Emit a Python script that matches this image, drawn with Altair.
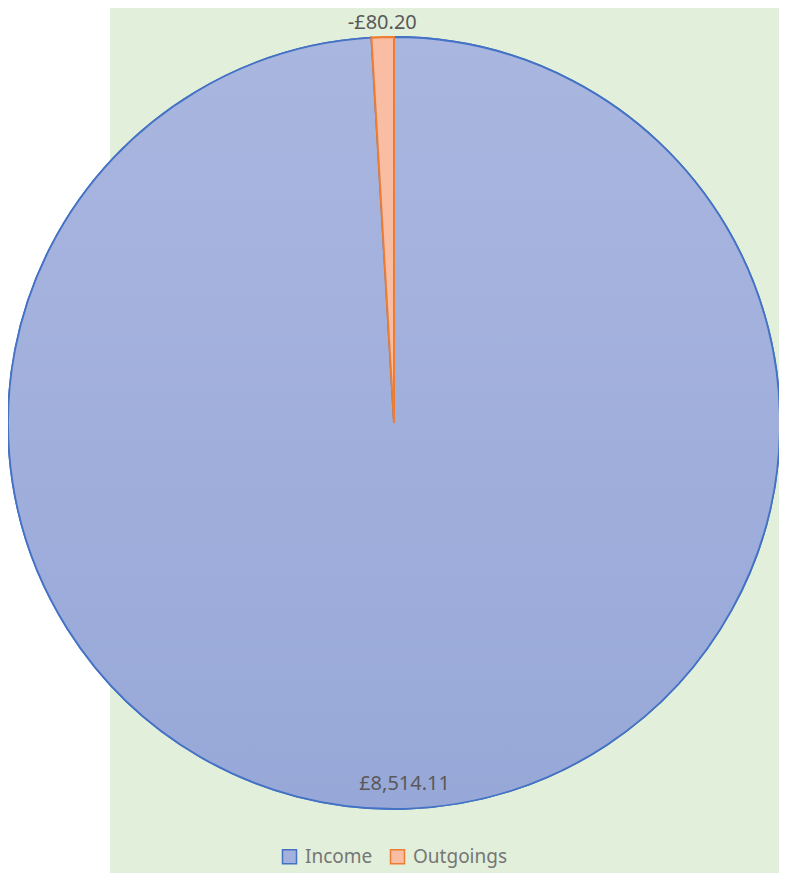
import altair as alt
import pandas as pd

categories = ["Income", "Outgoings"]
values = [8514.11, -80.20]
labels = ["£8,514.11", "-£80.20"]
fills = ["#A3B1DC", "#F8BDA2"]
strokes = ["#4472C4", "#ED7D31"]
label_radius = [361, 400]

df = pd.DataFrame({"category": categories, "value": values, "label": labels, "lr": label_radius})
total = sum(abs(v) for v in values)

W, H = 771, 865
CX, CY, R = 386, 415, 386


def pie_base():
    return alt.Chart(df).transform_calculate(
        size="abs(datum.value)",
        order="datum.category == 'Income' ? 0 : 1",
    ).transform_window(
        v1="sum(size)", sort=[alt.SortField("order")], frame=[None, 0]
    ).transform_calculate(
        v0="datum.v1 - datum.size",
        vm="(datum.v0 + datum.v1) / 2",
    )


theta_scale = alt.Scale(domain=[0, total], range=[0, 6.283185307179586])

bg = alt.Chart(df).mark_rect(color="#E2EFDA").encode(
    x=alt.value(102), x2=alt.value(W), y=alt.value(-10), y2=alt.value(H)
).transform_filter("datum.category == 'Income'")

pie_all = pie_base().mark_arc(radius=R, strokeWidth=1.8).encode(
    theta=alt.Theta("v0:Q", scale=theta_scale),
    theta2="v1:Q",
    x=alt.value(CX), y=alt.value(CY),
    fill=alt.Fill("category:N", scale=alt.Scale(domain=categories, range=fills),
                  legend=alt.Legend(title=None, orient="none", legendX=272, legendY=839,
                                    direction="horizontal", symbolType="square",
                                    symbolSize=196, symbolStrokeWidth=1.5,
                                    labelFont="Noto Sans", labelFontSize=19,
                                    labelColor="#767676", labelOffset=6,
                                    columnPadding=14, padding=0)),
    stroke=alt.Stroke("category:N", scale=alt.Scale(domain=categories, range=strokes), legend=None),
)

grad = alt.Gradient(
    gradient="linear", x1=0, y1=0, x2=0, y2=1,
    stops=[alt.GradientStop(color="#A9B6DF", offset=0),
           alt.GradientStop(color="#A1AFDC", offset=0.5),
           alt.GradientStop(color="#97A8D8", offset=1)],
)

pie_income = pie_base().transform_filter("datum.category == 'Income'").mark_arc(
    radius=R, fill=grad, stroke="#4472C4", strokeWidth=1.8
).encode(
    theta=alt.Theta("v0:Q", scale=theta_scale), theta2="v1:Q",
    x=alt.value(CX), y=alt.value(CY),
)

pie_out = pie_base().transform_filter("datum.category == 'Outgoings'").mark_arc(
    radius=R, fill="#F8BDA2", stroke="#ED7D31", strokeWidth=2
).encode(
    theta=alt.Theta("v0:Q", scale=theta_scale), theta2="v1:Q",
    x=alt.value(CX), y=alt.value(CY),
)

text = pie_base().mark_text(font="Noto Sans", fontSize=20, color="#595959",
                            align="center", baseline="middle").encode(
    theta=alt.Theta("vm:Q", scale=theta_scale),
    radius=alt.Radius("lr:Q", scale=None),
    x=alt.value(CX), y=alt.value(CY),
    text="label:N",
)

chart = alt.layer(bg, pie_all, pie_income, pie_out, text).properties(
    width=W, height=H, padding=0, autosize=alt.AutoSizeParams(type="none"),
    background="white",
).configure_view(stroke=None)

chart.save("out.html", embed_options={"renderer": "svg", "actions": False})
